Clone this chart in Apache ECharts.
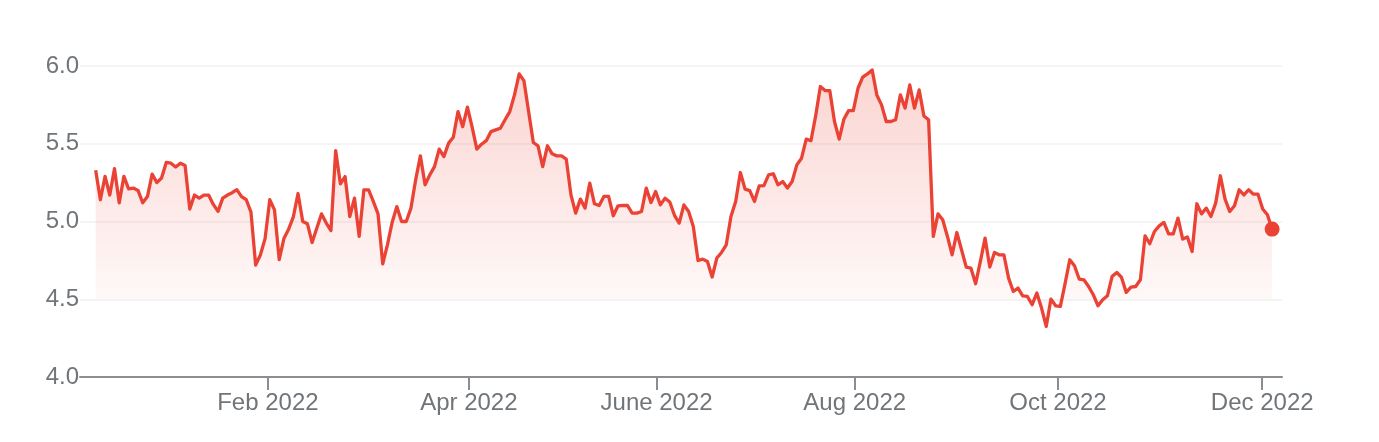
<!DOCTYPE html>
<html>
<head>
<meta charset="utf-8">
<script src="https://cdn.jsdelivr.net/npm/echarts@6/dist/echarts.min.js"></script>
<style>
html,body{margin:0;padding:0;background:#fff;}
#chart{width:1379px;height:442px;}
</style>
</head>
<body>
<div id="chart"></div>
<script>
// Daily closing values (trading-day order, Dec 2021 - Dec 2022)
const prices = [
5.33,5.14,5.29,5.17,5.34,5.12,5.29,5.21,5.215,5.20,
5.12,5.16,5.305,5.25,5.28,5.38,5.375,5.35,5.375,5.36,
5.08,5.17,5.15,5.17,5.17,5.11,5.065,5.15,5.17,5.185,
5.205,5.16,5.14,5.06,4.72,4.785,4.89,5.14,5.075,4.755,
4.89,4.95,5.03,5.18,5.00,4.985,4.865,4.958,5.049,4.99,
4.942,5.456,5.242,5.289,5.032,5.15,4.904,5.204,5.204,5.129,
5.049,4.728,4.85,4.994,5.096,5.0,5.0,5.086,5.268,5.422,
5.236,5.30,5.353,5.465,5.418,5.504,5.542,5.707,5.61,5.735,
5.607,5.465,5.497,5.52,5.578,5.589,5.60,5.654,5.707,5.814,
5.949,5.906,5.707,5.508,5.487,5.353,5.487,5.435,5.422,5.422,
5.401,5.171,5.054,5.144,5.086,5.247,5.114,5.103,5.161,5.161,
5.037,5.101,5.103,5.103,5.054,5.054,5.064,5.215,5.122,5.193,
5.107,5.15,5.125,5.04,4.99,5.107,5.064,4.968,4.749,4.758,
4.743,4.643,4.765,4.801,4.85,5.032,5.129,5.315,5.208,5.199,
5.129,5.229,5.231,5.30,5.307,5.236,5.257,5.215,5.257,5.364,
5.407,5.53,5.519,5.679,5.868,5.842,5.842,5.643,5.53,5.658,
5.713,5.713,5.857,5.928,5.949,5.975,5.814,5.75,5.643,5.643,
5.654,5.814,5.729,5.878,5.729,5.846,5.679,5.654,4.904,5.049,
5.011,4.904,4.786,4.929,4.818,4.707,4.70,4.60,4.743,4.893,
4.707,4.801,4.786,4.786,4.636,4.55,4.572,4.522,4.518,4.465,
4.54,4.443,4.325,4.501,4.458,4.454,4.60,4.754,4.715,4.63,
4.625,4.582,4.529,4.458,4.497,4.522,4.647,4.672,4.64,4.544,
4.578,4.582,4.625,4.908,4.857,4.936,4.972,4.994,4.921,4.921,
5.022,4.887,4.90,4.807,5.114,5.049,5.086,5.032,5.118,5.294,
5.144,5.064,5.101,5.204,5.171,5.204,5.176,5.176,5.08,5.043,
4.951
];

// Month-start positions on the trading-day scale, and their labels
const monthTickDays = [36.6, 79.3, 119.2, 161.3, 204.5, 247.9];
const monthTickLabels = ['Feb 2022', 'Apr 2022', 'June 2022', 'Aug 2022', 'Oct 2022', 'Dec 2022'];

// Y axis ticks
const yTicks = [4.0, 4.5, 5.0, 5.5, 6.0];

const seriesData = prices.map((v, i) => [i, v]);
const lastPoint = [prices.length - 1, prices[prices.length - 1]];

const RED = '#ea4335';
const LABEL = '#70757a';
const FONT = '"Liberation Sans", Arial, Helvetica, sans-serif';

const chart = echarts.init(document.getElementById('chart'), null, {renderer: 'canvas'});
chart.setOption({
  animation: false,
  grid: {left: 80, right: 97, top: 66, bottom: 65, containLabel: false},
  xAxis: {
    type: 'value',
    min: -3.33,
    max: 252.1,
    splitLine: {show: false},
    axisLine: {show: true, lineStyle: {color: '#8a8e92', width: 2}},
    axisTick: {show: true, customValues: monthTickDays, length: 13, lineStyle: {color: '#8a8e92', width: 2}},
    axisLabel: {
      customValues: monthTickDays,
      color: LABEL, fontSize: 24, fontFamily: FONT, margin: 14,
      formatter: function (v) {
        let best = 0, d = Infinity;
        monthTickDays.forEach((t, i) => { if (Math.abs(t - v) < d) { d = Math.abs(t - v); best = i; } });
        return monthTickLabels[best];
      }
    }
  },
  yAxis: {
    type: 'value',
    min: yTicks[0],
    max: yTicks[yTicks.length - 1],
    interval: 0.5,
    axisLine: {show: false},
    axisTick: {show: false},
    splitLine: {show: true, lineStyle: {color: '#f0f0f0', width: 1.5}},
    axisLabel: {
      color: LABEL, fontSize: 24, fontFamily: FONT, margin: 1,
      formatter: v => v.toFixed(1)
    }
  },
  series: [
    {
      type: 'line',
      data: seriesData,
      symbol: 'none',
      lineStyle: {color: RED, width: 3.3, join: 'round'},
      areaStyle: {
        origin: 4.5,
        color: new echarts.graphic.LinearGradient(0, 0, 0, 1, [
          {offset: 0, color: 'rgba(234,67,53,0.32)'},
          {offset: 1, color: 'rgba(234,67,53,0.02)'}
        ])
      },
      z: 2
    },
    {
      type: 'scatter',
      data: [lastPoint],
      symbol: 'circle',
      symbolSize: 15,
      itemStyle: {color: RED, opacity: 1},
      z: 3
    }
  ]
});
</script>
</body>
</html>
